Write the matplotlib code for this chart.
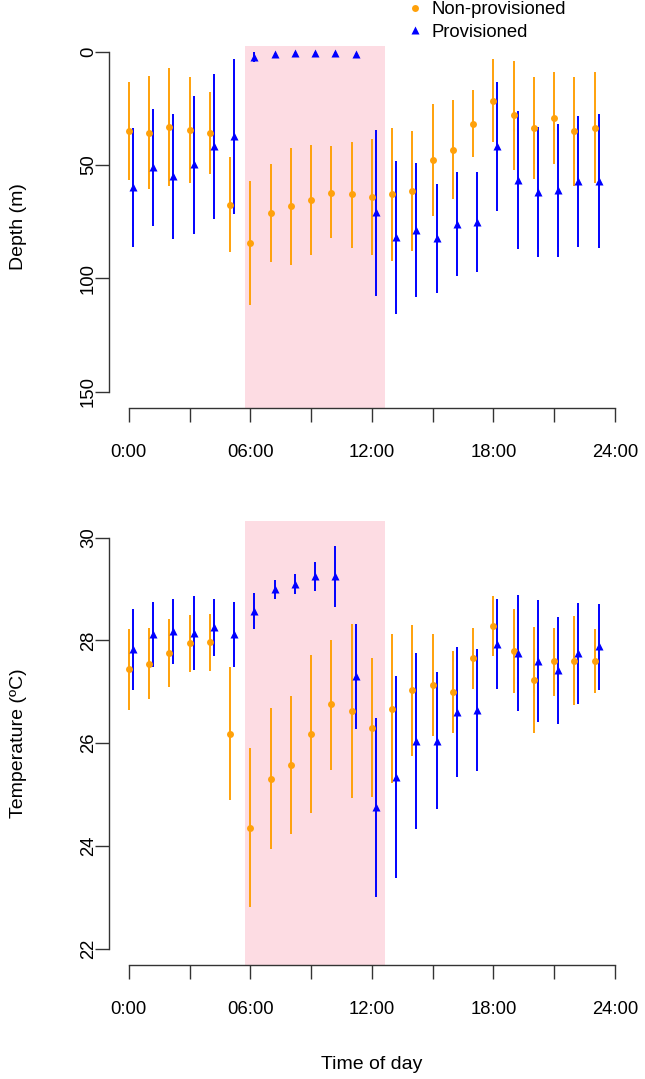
import matplotlib
matplotlib.use("Agg")
import matplotlib.pyplot as plt
import numpy as np
from matplotlib.lines import Line2D

plt.rcParams['font.family'] = ['Liberation Sans', 'DejaVu Sans']

#%% Data #####################################################################

hours = np.arange(24)
day_start, day_end = 5.73, 12.65   # shaded period (h)

# depth (m): mean and lower/upper ends of the bars
depth_np_mean = [35.0, 35.7, 33.1, 34.4, 35.9, 67.5, 84.5, 71.0, 68.2, 65.4, 62.2, 62.9,
                 64.1, 62.8, 61.3, 47.9, 43.4, 31.8, 21.6, 28.1, 33.5, 29.3, 35.0, 33.5]
depth_np_lo = [13.4, 10.7, 7.2, 11.2, 17.9, 46.6, 57.0, 49.5, 42.5, 41.3, 41.6, 39.7,
               38.7, 33.8, 34.8, 23.2, 21.3, 16.9, 3.4, 4.1, 11.2, 8.8, 11.0, 9.0]
depth_np_hi = [56.7, 60.7, 59.1, 57.8, 54.0, 88.5, 111.7, 92.9, 94.0, 89.7, 82.3, 86.5,
               89.7, 92.5, 87.8, 72.5, 65.1, 46.5, 40.0, 52.2, 56.2, 49.5, 59.2, 57.8]

depth_p_mean = [59.8, 50.7, 55.0, 49.7, 41.6, 37.2, 2.2, 1.0, 0.7, 0.4, 0.4, 1.0,
                70.9, 81.6, 78.7, 82.2, 76.0, 75.0, 41.6, 56.6, 61.8, 61.0, 56.9, 56.9]
depth_p_lo = [33.7, 25.1, 27.6, 19.5, 9.8, 3.2, 0.0, 0.5, 0.3, 0.1, 0.1, 0.6,
              34.7, 48.1, 49.2, 58.4, 53.2, 53.2, 13.2, 26.2, 33.2, 31.9, 28.2, 27.4]
depth_p_hi = [86.0, 76.8, 82.6, 80.4, 73.9, 71.7, 4.7, 1.5, 1.1, 0.7, 0.7, 1.4,
              107.6, 115.7, 108.4, 106.3, 99.0, 97.3, 70.3, 87.2, 90.4, 90.4, 86.0, 86.7]

# temperature (ºC)
temp_np_mean = [27.44, 27.54, 27.76, 27.95, 27.97, 26.17, 24.35, 25.31, 25.58, 26.18, 26.76, 26.63,
                26.30, 26.66, 27.03, 27.13, 26.99, 27.65, 28.29, 27.80, 27.23, 27.59, 27.60, 27.59]
temp_np_lo = [26.64, 26.85, 27.10, 27.39, 27.40, 24.89, 22.80, 23.94, 24.24, 24.64, 25.48, 24.93,
              24.96, 25.22, 25.75, 26.14, 26.19, 27.05, 27.70, 26.97, 26.19, 26.92, 26.74, 26.97]
temp_np_hi = [28.22, 28.24, 28.41, 28.50, 28.52, 27.48, 25.91, 26.68, 26.91, 27.71, 28.01, 28.32,
              27.65, 28.12, 28.31, 28.12, 27.79, 28.24, 28.86, 28.62, 28.27, 28.25, 28.48, 28.22]

temp_p_mean = [27.84, 28.13, 28.18, 28.15, 28.27, 28.13, 28.58, 29.00, 29.10, 29.25, 29.26, 27.31,
               24.76, 25.35, 26.05, 26.05, 26.61, 26.64, 27.94, 27.76, 27.60, 27.42, 27.75, 27.89]
temp_p_lo = [27.03, 27.49, 27.54, 27.42, 27.70, 27.49, 28.23, 28.80, 28.91, 28.96, 28.66, 26.27,
             23.01, 23.37, 24.33, 24.71, 25.35, 25.46, 27.05, 26.63, 26.42, 26.37, 26.76, 27.03]
temp_p_hi = [28.61, 28.74, 28.80, 28.86, 28.80, 28.75, 28.92, 29.18, 29.29, 29.52, 29.84, 28.32,
             26.49, 27.31, 27.75, 27.39, 27.87, 27.83, 28.80, 28.88, 28.78, 28.45, 28.72, 28.71]

xticks = [0, 3, 6, 9, 12, 15, 18, 21, 24]
xticklabels = ['0:00', '', '06:00', '', '12:00', '', '18:00', '', '24:00']

#%% Plot #####################################################################

ORANGE = '#FFA10A'
BLUE = '#0000FF'
PINK = '#FDDCE3'
AXC = '#333333'
FS = 13.3
FS_LAB = 14

W, H = 645.0, 1079.0
fig = plt.figure(figsize=(W / 100, H / 100), dpi=100)


def add_axes_px(left, right, top, bottom):
    return fig.add_axes([left / W, 1 - bottom / H, (right - left) / W, (bottom - top) / H])


def draw_panel(ax, np_mean, np_lo, np_hi, p_mean, p_lo, p_hi):
    ax.axvspan(day_start, day_end, color=PINK, lw=0, zorder=0)
    x_np = hours
    x_p = hours + 0.2
    ax.vlines(x_np, np_lo, np_hi, color=ORANGE, lw=1.4, zorder=2)
    ax.plot(x_np, np_mean, 'o', color=ORANGE, ms=5, mec='none', zorder=3)
    ax.vlines(x_p, p_lo, p_hi, color=BLUE, lw=1.4, zorder=2)
    ax.plot(x_p, p_mean, '^', color=BLUE, ms=5.5, mec='none', zorder=3)

    ax.set_xlim(-0.96, 24.96)
    ax.set_xticks(xticks)
    ax.set_xticklabels(xticklabels)
    for s in ['top', 'right']:
        ax.spines[s].set_visible(False)
    for s in ['left', 'bottom']:
        ax.spines[s].set_color(AXC)
        ax.spines[s].set_linewidth(1.0)
    ax.spines['bottom'].set_bounds(0, 24)
    ax.tick_params(axis='both', length=10, width=1.0, color=AXC, labelsize=FS)
    ax.tick_params(axis='x', pad=16)
    ax.tick_params(axis='y', pad=-1)


def rotate_yticks(ax):
    for lab in ax.get_yticklabels():
        lab.set_rotation(90)
        lab.set_va('center')


ax1 = add_axes_px(109.3, 634.4, 46, 407.7)
draw_panel(ax1, depth_np_mean, depth_np_lo, depth_np_hi, depth_p_mean, depth_p_lo, depth_p_hi)
ax1.set_ylim(157.0, -2.5)
ax1.set_yticks([0, 50, 100, 150])
ax1.spines['left'].set_bounds(0, 150)
rotate_yticks(ax1)
ax1.set_ylabel('Depth (m)', fontsize=FS_LAB, labelpad=38)

ax2 = add_axes_px(109.3, 634.4, 521.3, 965)
draw_panel(ax2, temp_np_mean, temp_np_lo, temp_np_hi, temp_p_mean, temp_p_lo, temp_p_hi)
ax2.set_ylim(21.68, 30.32)
ax2.set_yticks([22, 24, 26, 28, 30])
ax2.spines['left'].set_bounds(22, 30)
rotate_yticks(ax2)
ax2.set_ylabel('Temperature (ºC)', fontsize=FS_LAB, labelpad=38)
ax2.set_xlabel('Time of day', fontsize=FS_LAB, labelpad=27)

handles = [Line2D([], [], ls='none', marker='o', color=ORANGE, ms=5, mec='none'),
           Line2D([], [], ls='none', marker='^', color=BLUE, ms=5.5, mec='none')]
ax1.legend(handles, ['Non-provisioned', 'Provisioned'], loc='upper left',
           bbox_to_anchor=(407.6 / W, 1 - 1 / H), bbox_transform=fig.transFigure,
           frameon=False, fontsize=FS, borderpad=0, borderaxespad=0,
           handlelength=0.8, handletextpad=0.5, labelspacing=0.3)

fig.savefig('out.png', dpi=100)
